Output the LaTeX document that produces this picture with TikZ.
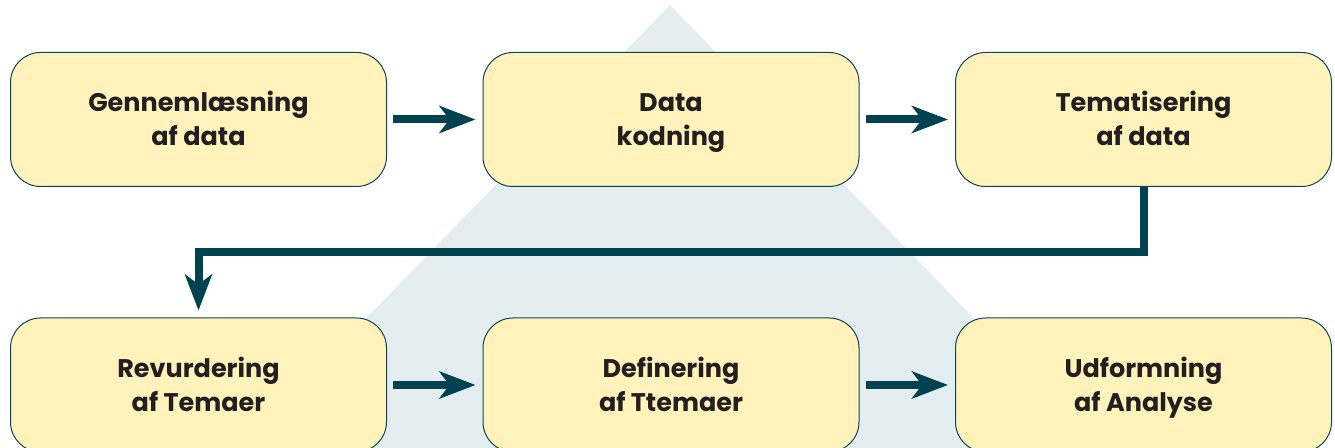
\documentclass[tikz,border=0pt]{standalone}
\usepackage{fontspec}
\setmainfont{Poppins}
\usetikzlibrary{arrows.meta,calc}
\definecolor{boxfill}{HTML}{FFF2BB}
\definecolor{boxline}{HTML}{0B4653}
\definecolor{arrcol}{HTML}{00424F}
\definecolor{tri}{HTML}{E4EDF0}
\definecolor{txt}{HTML}{231F20}
\newcommand\lstrut{\rule[-7.5pt]{0pt}{34pt}}
\tikzset{
  stepbox/.style={draw=boxline, line width=1pt, fill=boxfill, rounded corners=30pt,
    minimum width=376pt, minimum height=134pt, inner sep=0pt, align=center,
    text=txt, font=\fontsize{25.5}{34}\selectfont\bfseries},
  flow/.style={draw=arrcol, line width=8pt, line join=miter,
    -{Stealth[length=36pt,width=27pt,inset=10pt]}, shorten >=7pt, shorten <=6pt}
}
\begin{document}
\begin{tikzpicture}[x=1pt,y=1pt]
\clip (0,0) rectangle (1335,447);
\fill[tri] (670,442) -- (218,-24) -- (1122,-24) -- cycle;
\node[stepbox] (b1) at (198.5,327.5) {Gennemlæsning\lstrut\\af data\lstrut};
\node[stepbox] (b2) at (671,327.5) {Data\lstrut\\kodning\lstrut};
\node[stepbox] (b3) at (1143.5,327.5) {Tematisering\lstrut\\af data\lstrut};
\node[stepbox] (b4) at (198.5,62) {Revurdering\lstrut\\af Temaer\lstrut};
\node[stepbox] (b5) at (671,62) {Definering\lstrut\\af Ttemaer\lstrut};
\node[stepbox] (b6) at (1143.5,62) {Udformning\lstrut\\af Analyse\lstrut};
\coordinate (m) at (0,195);
\draw[flow] (b1.east) -- (b2.west);
\draw[flow] (b2.east) -- (b3.west);
\draw[flow] (b4.east) -- (b5.west);
\draw[flow] (b5.east) -- (b6.west);
\draw[flow, shorten <=0pt] (b3.south) |- (b4.north |- m) -- (b4.north);
\end{tikzpicture}
\end{document}
